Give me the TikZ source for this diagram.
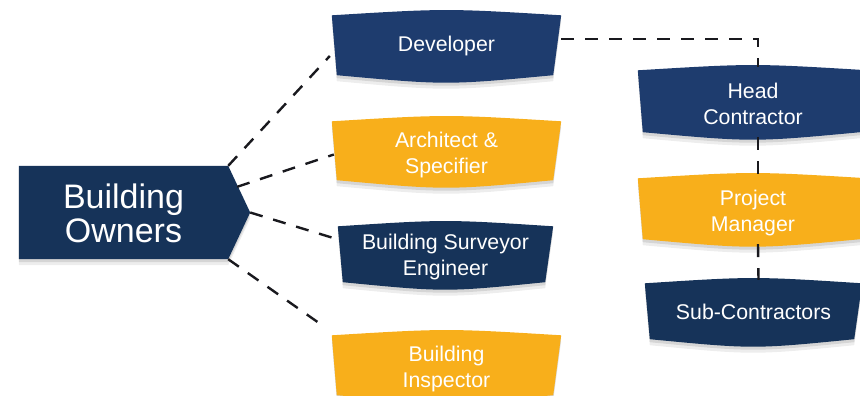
\documentclass[tikz,border=0pt]{standalone}
\usepackage{fontspec}
\setmainfont{Liberation Sans}
\usetikzlibrary{calc,shadows}
\pgfdeclarelayer{bg}
\pgfsetlayers{bg,main}
\definecolor{navyA}{RGB}{30,60,110}
\definecolor{navyB}{RGB}{22,51,89}
\definecolor{gold}{RGB}{248,175,27}
\definecolor{dashc}{RGB}{25,25,30}
\tikzset{
  bshadow/.style={
    drop shadow={shadow xshift=0pt, shadow yshift=-6pt, opacity=0.07, fill=black},
    drop shadow={shadow xshift=0pt, shadow yshift=-3pt, opacity=0.10, fill=black}},
  boxarea/.style={inner sep=0pt},
  boxtext/.style={inner sep=0pt, text=white, align=center,
    font=\fontsize{21.3}{26}\selectfont},
  conn/.style={draw=dashc, line width=2.4pt, dash pattern=on 13pt off 11pt}
}
\newcommand\bannershape[2]{%
  \fill[#2, bshadow] ([yshift=-3.5pt]#1.north west)
    .. controls ([yshift=3.5pt]#1.north) .. ([yshift=-3.5pt]#1.north east)
    -- ([xshift=-8pt,yshift=5pt]#1.south east)
    .. controls ([yshift=-5pt]#1.south) .. ([xshift=5pt,yshift=5pt]#1.south west)
    -- cycle;}
\begin{document}
\begin{tikzpicture}[x=1pt,y=-1pt]
\useasboundingbox (0,0) rectangle (860,396);
\clip (0,0) rectangle (860,396);
% box areas
\node[boxarea, minimum width=209pt, minimum height=93pt] (bo) at (123.5,212.5) {};
\coordinate (botip) at ([xshift=22pt]bo.east);
\node[boxarea, minimum width=229pt, minimum height=68pt] (dev) at (446.5,46) {};
\node[boxarea, minimum width=229pt, minimum height=67pt] (arch) at (446.5,151.5) {};
\node[boxarea, minimum width=215pt, minimum height=64pt] (surv) at (445.5,255) {};
\node[boxarea, minimum width=229pt, minimum height=68pt] (insp) at (446.5,366) {};
\node[boxarea, minimum width=230pt, minimum height=70pt] (head) at (753,102) {};
\node[boxarea, minimum width=230pt, minimum height=69pt] (pm) at (753,209.5) {};
\node[boxarea, minimum width=217pt, minimum height=64pt] (sub) at (753.5,312) {};
% shapes
\begin{pgfonlayer}{bg}
  \fill[navyB, bshadow] (bo.north west) -- (bo.north east) -- (botip)
    -- (bo.south east) -- (bo.south west) -- cycle;
  \bannershape{dev}{navyA}
  \bannershape{arch}{gold}
  \bannershape{surv}{navyB}
  \bannershape{insp}{gold}
  \bannershape{head}{navyA}
  \bannershape{pm}{gold}
  \bannershape{sub}{navyB}
\end{pgfonlayer}
% texts
\node[boxtext, font=\fontsize{34}{34}\selectfont] (bo-t) at ([yshift=-1pt]bo.center) {Building\\Owners};
\node[boxtext] (dev-t) at (dev.center) {Developer};
\node[boxtext] (arch-t) at ([yshift=-3pt]arch.center) {Architect \&\\Specifier};
\node[boxtext] (surv-t) at ([yshift=-2pt]surv.center) {Building Surveyor\\Engineer};
\node[boxtext] (insp-t) at ([yshift=-3pt]insp.center) {Building\\Inspector};
\node[boxtext] (head-t) at ([yshift=-1.5pt]head.center) {Head\\Contractor};
\node[boxtext] (pm-t) at ([yshift=-3pt]pm.center) {Project\\Manager};
\node[boxtext] (sub-t) at (sub.center) {Sub-Contractors};
% connectors
\draw[conn] (bo.north east) -- ([xshift=-2pt,yshift=-10pt]dev.west);
\draw[conn] ([xshift=9pt,yshift=-21pt]bo.north east) -- ([xshift=2pt,yshift=-3pt]arch.west);
\draw[conn] (botip) -- ([xshift=2pt,yshift=15pt]surv.west);
\draw[conn] (bo.south east) -- ([xshift=-6pt,yshift=4pt]insp.north west);
\draw[conn] ([yshift=7pt]dev.east) -| ([xshift=5pt]head.north);
\draw[conn] ([xshift=5pt]head.south) -- ([xshift=5pt]pm.north);
\draw[conn] ([xshift=5pt]pm.south) -- ([xshift=5pt]sub.north);
\end{tikzpicture}
\end{document}
